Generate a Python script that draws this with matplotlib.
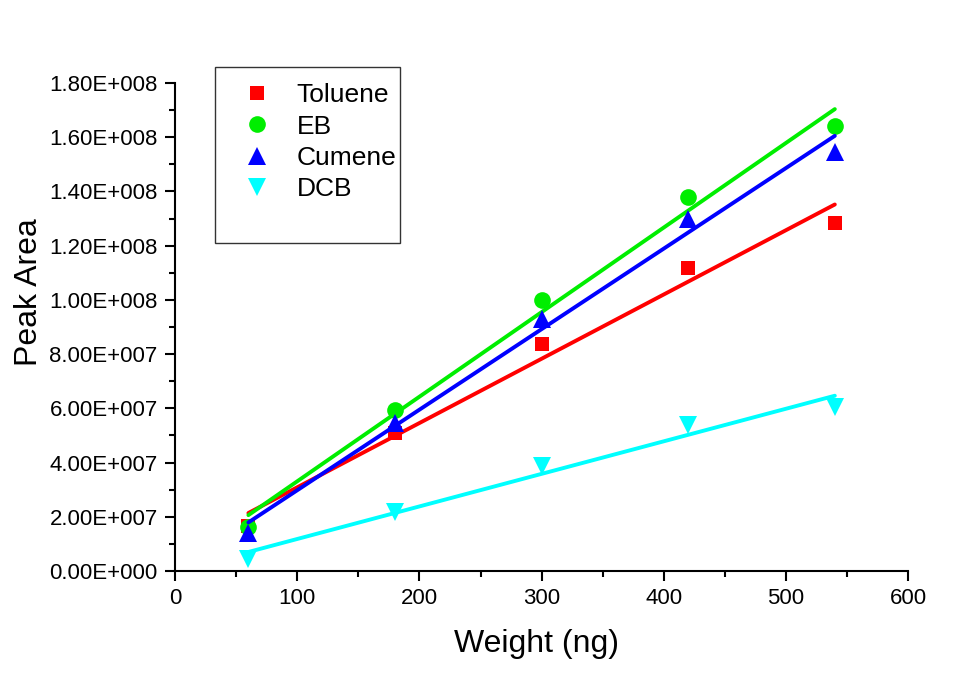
import numpy as np
import matplotlib
matplotlib.use("Agg")
import matplotlib.pyplot as plt
from matplotlib.patches import Rectangle
from matplotlib.ticker import MultipleLocator, FuncFormatter

plt.rcParams['font.family'] = ['Liberation Sans', 'DejaVu Sans']

# Injected amount (ng) and measured peak areas
weight = [60, 180, 300, 420, 540]
toluene = [16.6e6, 50.9e6, 83.7e6, 111.8e6, 128.4e6]
eb = [16.2e6, 59.2e6, 100.0e6, 138.0e6, 164.0e6]
cumene = [14.0e6, 54.5e6, 93.0e6, 130.0e6, 154.5e6]
dcb = [4.5e6, 21.6e6, 38.7e6, 53.9e6, 60.4e6]

series_names = ["Toluene", "EB", "Cumene", "DCB"]
series_values = [toluene, eb, cumene, dcb]
series_colors = ["#ff0000", "#00ee00", "#0000ff", "#00ffff"]
series_markers = ["s", "o", "^", "v"]
series_msize = [10, 12, 13.5, 13.5]

fig = plt.figure(figsize=(9.62, 6.73), dpi=100)
ax = fig.add_axes([0.182, 0.1516, 0.762, 0.7251])

x = np.array(weight, dtype=float)
for name, vals, c, m, ms in zip(series_names, series_values, series_colors,
                                series_markers, series_msize):
    y = np.array(vals, dtype=float)
    ax.plot(x, y, linestyle="none", marker=m, markersize=ms, color=c,
            markeredgewidth=0, label=name)
    # least-squares calibration line over the measured range
    slope, icpt = np.polyfit(x, y, 1)
    xf = np.array([x.min(), x.max()])
    ax.plot(xf, slope * xf + icpt, color=c, linewidth=2.8,
            solid_capstyle="round")

ax.set_xlim(0, 600)
ax.set_ylim(0, 1.8e8)
ax.xaxis.set_major_locator(MultipleLocator(100))
ax.xaxis.set_minor_locator(MultipleLocator(50))
ax.yaxis.set_major_locator(MultipleLocator(2e7))
ax.yaxis.set_minor_locator(MultipleLocator(1e7))


def sci_fmt(v, pos):
    if v == 0:
        return "0.00E+000"
    e = int(np.floor(np.log10(abs(v))))
    m = v / 10 ** e
    return f"{m:.2f}E+{e:03d}"


ax.yaxis.set_major_formatter(FuncFormatter(sci_fmt))

for side in ("top", "right"):
    ax.spines[side].set_visible(False)
for side in ("left", "bottom"):
    ax.spines[side].set_linewidth(1.5)
    ax.spines[side].set_color("black")

ax.tick_params(which="major", direction="out", length=7.5, width=1.5,
               labelsize=16, pad=5)
ax.tick_params(which="minor", direction="out", length=4.5, width=1.5)

ax.set_xlabel("Weight (ng)", fontsize=23)
ax.set_ylabel("Peak Area", fontsize=23)
ax.xaxis.set_label_coords(0.493, -0.118)
ax.yaxis.set_label_coords(-0.1787, 0.5717)

# Legend: entries without their own frame, boxed by a separate rectangle
ax.add_patch(Rectangle((215 / 962, 1 - 243 / 673), 185 / 962, 176 / 673,
                       transform=fig.transFigure, clip_on=False, fill=True,
                       facecolor="white", edgecolor="#333333",
                       linewidth=1.0, zorder=5))
leg = ax.legend(loc="upper left", bbox_to_anchor=(241 / 962, 1 - 83.5 / 673),
                bbox_transform=fig.transFigure,
                fontsize=19, frameon=False,
                handlelength=1.2, handletextpad=0.9, labelspacing=0.27,
                borderpad=0.0, borderaxespad=0.0)
leg.set_zorder(6)

fig.savefig("out.png", dpi=100)
